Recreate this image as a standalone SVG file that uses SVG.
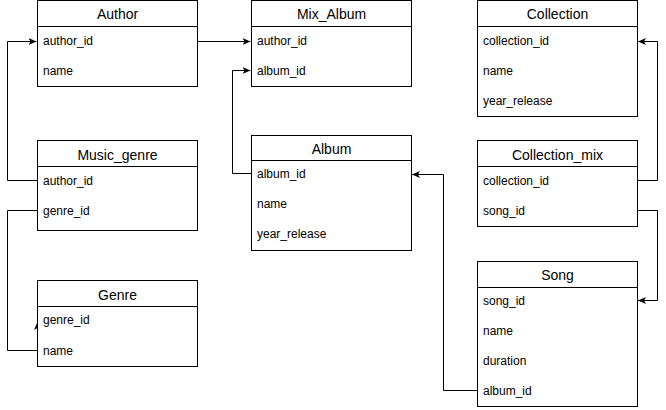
<svg xmlns="http://www.w3.org/2000/svg" width="666" height="410" viewBox="0 0 666 410">
<defs>
<marker id="arr" markerWidth="10" markerHeight="10" refX="8" refY="4" orient="auto" markerUnits="userSpaceOnUse">
<path d="M0,0.5 L8,4 L0,7.5 L2,4 Z" fill="#000"/>
</marker>
</defs>
<style>
.box{fill:#fff;stroke:#000;stroke-width:1}
.div{stroke:#000;stroke-width:1}
.h{font-family:"Liberation Sans",Arial,sans-serif;font-size:14px;text-anchor:middle;fill:#000}
.r{font-family:"Liberation Sans",Arial,sans-serif;font-size:12px;fill:#000}
.c{fill:none;stroke:#000;stroke-width:1}
</style>
<rect width="666" height="410" fill="#fff"/>
<g id="connectors">
<path class="c" d="M197.5,41.5 H250.5" marker-end="url(#arr)"/>
<path class="c" d="M37.5,180.5 H7.5 V41.5 H36.5" marker-end="url(#arr)"/>
<path class="c" d="M37.5,210.5 H7.5 V350.5 H37.5 V322" marker-end="url(#arr)"/>
<path class="c" d="M251.5,173.5 H232.5 V70.5 H250.5" marker-end="url(#arr)"/>
<path class="c" d="M477.5,390.5 H443.5 V174.5 H412" marker-end="url(#arr)"/>
<path class="c" d="M637.5,180.5 H657.5 V41.5 H638" marker-end="url(#arr)"/>
<path class="c" d="M637.5,210.5 H657.5 V300.5 H638" marker-end="url(#arr)"/>
</g>
<g id="Author">
<rect class="box" x="37.5" y="0.5" width="160" height="86"/>
<line class="div" x1="37.5" y1="26.5" x2="197.5" y2="26.5"/>
<text class="h" x="117.5" y="19">Author</text>
<text class="r" x="43" y="45">author_id</text>
<text class="r" x="43" y="75">name</text>
</g>
<g id="Mix_Album">
<rect class="box" x="251.5" y="0.5" width="160" height="86"/>
<line class="div" x1="251.5" y1="26.5" x2="411.5" y2="26.5"/>
<text class="h" x="331.5" y="19">Mix_Album</text>
<text class="r" x="257" y="45">author_id</text>
<text class="r" x="257" y="75">album_id</text>
</g>
<g id="Collection">
<rect class="box" x="477.5" y="0.5" width="160" height="116"/>
<line class="div" x1="477.5" y1="26.5" x2="637.5" y2="26.5"/>
<text class="h" x="557.5" y="19">Collection</text>
<text class="r" x="483" y="45">collection_id</text>
<text class="r" x="483" y="75">name</text>
<text class="r" x="483" y="105">year_release</text>
</g>
<g id="Music_genre">
<rect class="box" x="37.5" y="140.5" width="160" height="90"/>
<line class="div" x1="37.5" y1="166.5" x2="197.5" y2="166.5"/>
<text class="h" x="117.5" y="160">Music_genre</text>
<text class="r" x="43" y="185">author_id</text>
<text class="r" x="43" y="215">genre_id</text>
</g>
<g id="Album">
<rect class="box" x="251.5" y="135.5" width="160" height="115"/>
<line class="div" x1="251.5" y1="160.5" x2="411.5" y2="160.5"/>
<text class="h" x="331.5" y="154">Album</text>
<text class="r" x="257" y="178">album_id</text>
<text class="r" x="257" y="208">name</text>
<text class="r" x="257" y="238">year_release</text>
</g>
<g id="Collection_mix">
<rect class="box" x="477.5" y="140.5" width="160" height="86"/>
<line class="div" x1="477.5" y1="166.5" x2="637.5" y2="166.5"/>
<text class="h" x="557.5" y="160">Collection_mix</text>
<text class="r" x="483" y="185">collection_id</text>
<text class="r" x="483" y="215">song_id</text>
</g>
<g id="Genre">
<rect class="box" x="37.5" y="280.5" width="160" height="86"/>
<line class="div" x1="37.5" y1="306.5" x2="197.5" y2="306.5"/>
<text class="h" x="117.5" y="300">Genre</text>
<text class="r" x="43" y="324">genre_id</text>
<text class="r" x="43" y="355">name</text>
</g>
<g id="Song">
<rect class="box" x="477.5" y="261.5" width="160" height="145"/>
<line class="div" x1="477.5" y1="287.5" x2="637.5" y2="287.5"/>
<text class="h" x="557.5" y="280">Song</text>
<text class="r" x="483" y="305">song_id</text>
<text class="r" x="483" y="335">name</text>
<text class="r" x="483" y="365">duration</text>
<text class="r" x="483" y="395">album_id</text>
</g>
</svg>
